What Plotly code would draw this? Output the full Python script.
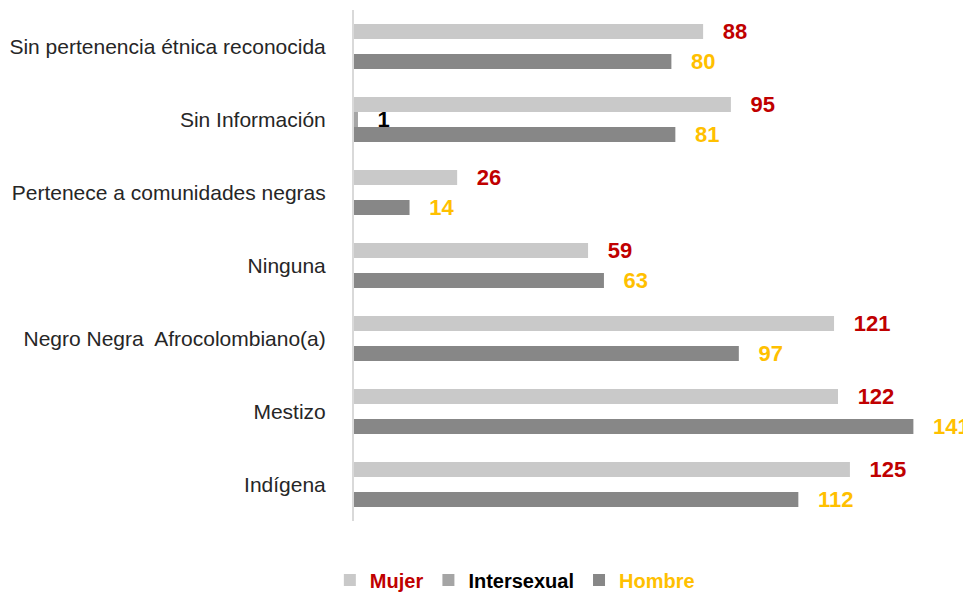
import plotly.graph_objects as go

# categories, top to bottom as in the chart
categories = [
    "Sin pertenencia étnica reconocida",
    "Sin Información",
    "Pertenece a comunidades negras",
    "Ninguna",
    "Negro Negra  Afrocolombiano(a)",
    "Mestizo",
    "Indígena",
]
mujer = [88, 95, 26, 59, 121, 122, 125]
intersexual = [None, 1, None, None, None, None, None]
hombre = [80, 81, 14, 63, 97, 141, 112]

series = [
    ("Mujer", mujer, "#C9C9C9", "#C00000"),
    ("Intersexual", intersexual, "#A5A5A5", "#000000"),
    ("Hombre", hombre, "#878787", "#FFC000"),
]

FONT = "Liberation Sans, Arial, sans-serif"

fig = go.Figure()
for name, values, bar_color, text_color in series:
    fig.add_trace(go.Bar(
        y=categories,
        x=values,
        name=f"<span style='color:{text_color}'><b>{name}</b></span>",
        orientation="h",
        marker=dict(color=bar_color, line=dict(width=0)),
        # small gap between bar end and its label
        texttemplate="\u00a0\u00a0\u2009%{x}",
        textposition="outside",
        textfont=dict(family=FONT, size=22, color=text_color, weight="bold"),
        constraintext="none",
        cliponaxis=False,
    ))

# page body has an 8px margin, so the figure is shifted by 8px right/down
fig.update_layout(
    width=971,
    height=592,
    margin=dict(l=346, r=18, t=2, b=79, autoexpand=False),
    paper_bgcolor="white",
    plot_bgcolor="white",
    barmode="group",
    bargap=0.384,
    bargroupgap=0,
    showlegend=True,
    legend=dict(
        orientation="h",
        x=0.265,
        xanchor="center",
        y=-0.1155,
        yanchor="middle",
        font=dict(family=FONT, size=20, color="#000000"),
        itemclick=False,
    ),
)
fig.update_xaxes(
    range=[0, 153],
    visible=False,
    showgrid=False,
    zeroline=False,
)
fig.update_yaxes(
    type="category",
    categoryorder="array",
    categoryarray=categories,
    autorange="reversed",
    showline=True,
    linecolor="#D9D9D9",
    linewidth=2,
    showgrid=False,
    ticks="",
    ticklabelstandoff=22,
    tickfont=dict(family=FONT, size=21, color="#262626"),
)

fig.write_html("out.html")
